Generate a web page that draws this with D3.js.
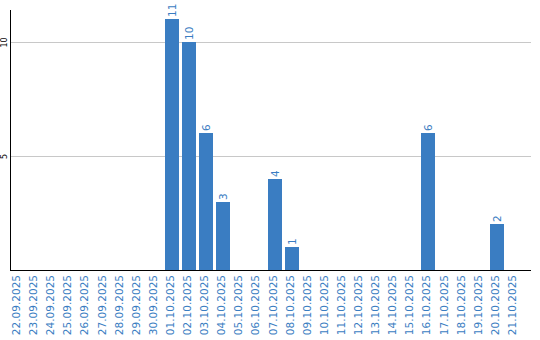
<!DOCTYPE html>
<html>
<head>
<meta charset="utf-8">
<script src="https://cdn.jsdelivr.net/npm/d3@7"></script>
<style>
  body { margin: 0; background: #fff; }
  svg { display: block; }
</style>
</head>
<body>
<svg id="chart"></svg>
<script>
const dates = ['22.09.2025', '23.09.2025', '24.09.2025', '25.09.2025', '26.09.2025', '27.09.2025',
  '28.09.2025', '29.09.2025', '30.09.2025', '01.10.2025', '02.10.2025', '03.10.2025', '04.10.2025',
  '05.10.2025', '06.10.2025', '07.10.2025', '08.10.2025', '09.10.2025', '10.10.2025', '11.10.2025',
  '12.10.2025', '13.10.2025', '14.10.2025', '15.10.2025', '16.10.2025', '17.10.2025', '18.10.2025',
  '19.10.2025', '20.10.2025', '21.10.2025'];
const counts = [0, 0, 0, 0, 0, 0, 0, 0, 0, 11, 10, 6, 3, 0, 0, 4, 1, 0, 0, 0, 0, 0, 0, 0, 6, 0, 0, 0, 2, 0];
const yTicks = [5, 10];
const yMax = 11.4;

const width = 540, height = 340;
const margin = {top: 10, right: 9, bottom: 70, left: 11};
const blue = '#3a7dc2';

const svg = d3.select('#chart')
  .attr('width', width)
  .attr('height', height);

const x = d3.scaleBand()
  .domain(dates)
  .range([margin.left, margin.left + dates.length * 17])
  .paddingInner(0.18)
  .paddingOuter(0)
  .align(0);

const y = d3.scaleLinear()
  .domain([0, yMax])
  .range([height - margin.bottom, margin.top]);

// gridlines
svg.append('g')
  .selectAll('line')
  .data(yTicks)
  .enter().append('line')
  .attr('x1', margin.left)
  .attr('x2', width - margin.right)
  .attr('y1', d => Math.round(y(d)) + 0.5)
  .attr('y2', d => Math.round(y(d)) + 0.5)
  .attr('stroke', '#c8c8c8')
  .attr('shape-rendering', 'crispEdges');

const rows = dates.map((d, i) => ({date: d, value: counts[i]})).filter(d => d.value > 0);

// bars
svg.append('g')
  .selectAll('rect')
  .data(rows)
  .enter().append('rect')
  .attr('x', d => Math.round(x(d.date)))
  .attr('y', d => Math.round(y(d.value)))
  .attr('width', 14)
  .attr('height', d => Math.round(y(0)) - Math.round(y(d.value)))
  .attr('fill', blue);

// value labels
svg.append('g')
  .selectAll('text')
  .data(rows)
  .enter().append('text')
  .attr('transform', d => `translate(${Math.round(x(d.date)) + 7},${Math.round(y(d.value)) - 2}) rotate(-90)`)
  .attr('dy', '0.35em')
  .attr('text-anchor', 'start')
  .attr('fill', blue)
  .style('font', '10.5px "DejaVu Sans"')
  .text(d => d.value);

// y axis
const yAxis = svg.append('g')
  .attr('transform', `translate(${margin.left},0)`)
  .call(d3.axisLeft(y).tickValues(yTicks).tickSize(0).tickPadding(0));
yAxis.select('.domain')
  .attr('stroke', '#000')
  .attr('d', `M-0.5,${margin.top}V${height - margin.bottom}`);
yAxis.selectAll('.tick text')
  .attr('x', 0)
  .attr('dy', 0)
  .attr('transform', 'translate(-4,0) rotate(-90)')
  .attr('text-anchor', 'middle')
  .attr('fill', '#000')
  .style('font', '8px "DejaVu Sans"');

// x axis
const xAxis = svg.append('g')
  .attr('transform', `translate(0,${height - margin.bottom})`)
  .call(d3.axisBottom(x).tickSize(0).tickPadding(0));
xAxis.select('.domain')
  .attr('stroke', '#000')
  .attr('d', `M${margin.left - 1},0.5H${width - margin.right}`);
xAxis.selectAll('.tick text')
  .attr('y', 0)
  .attr('dy', 0)
  .attr('transform', 'translate(-1,5) rotate(-90)')
  .attr('text-anchor', 'end')
  .attr('dominant-baseline', 'middle')
  .attr('fill', blue)
  .style('font', '10.5px "DejaVu Sans"');
</script>
</body>
</html>
